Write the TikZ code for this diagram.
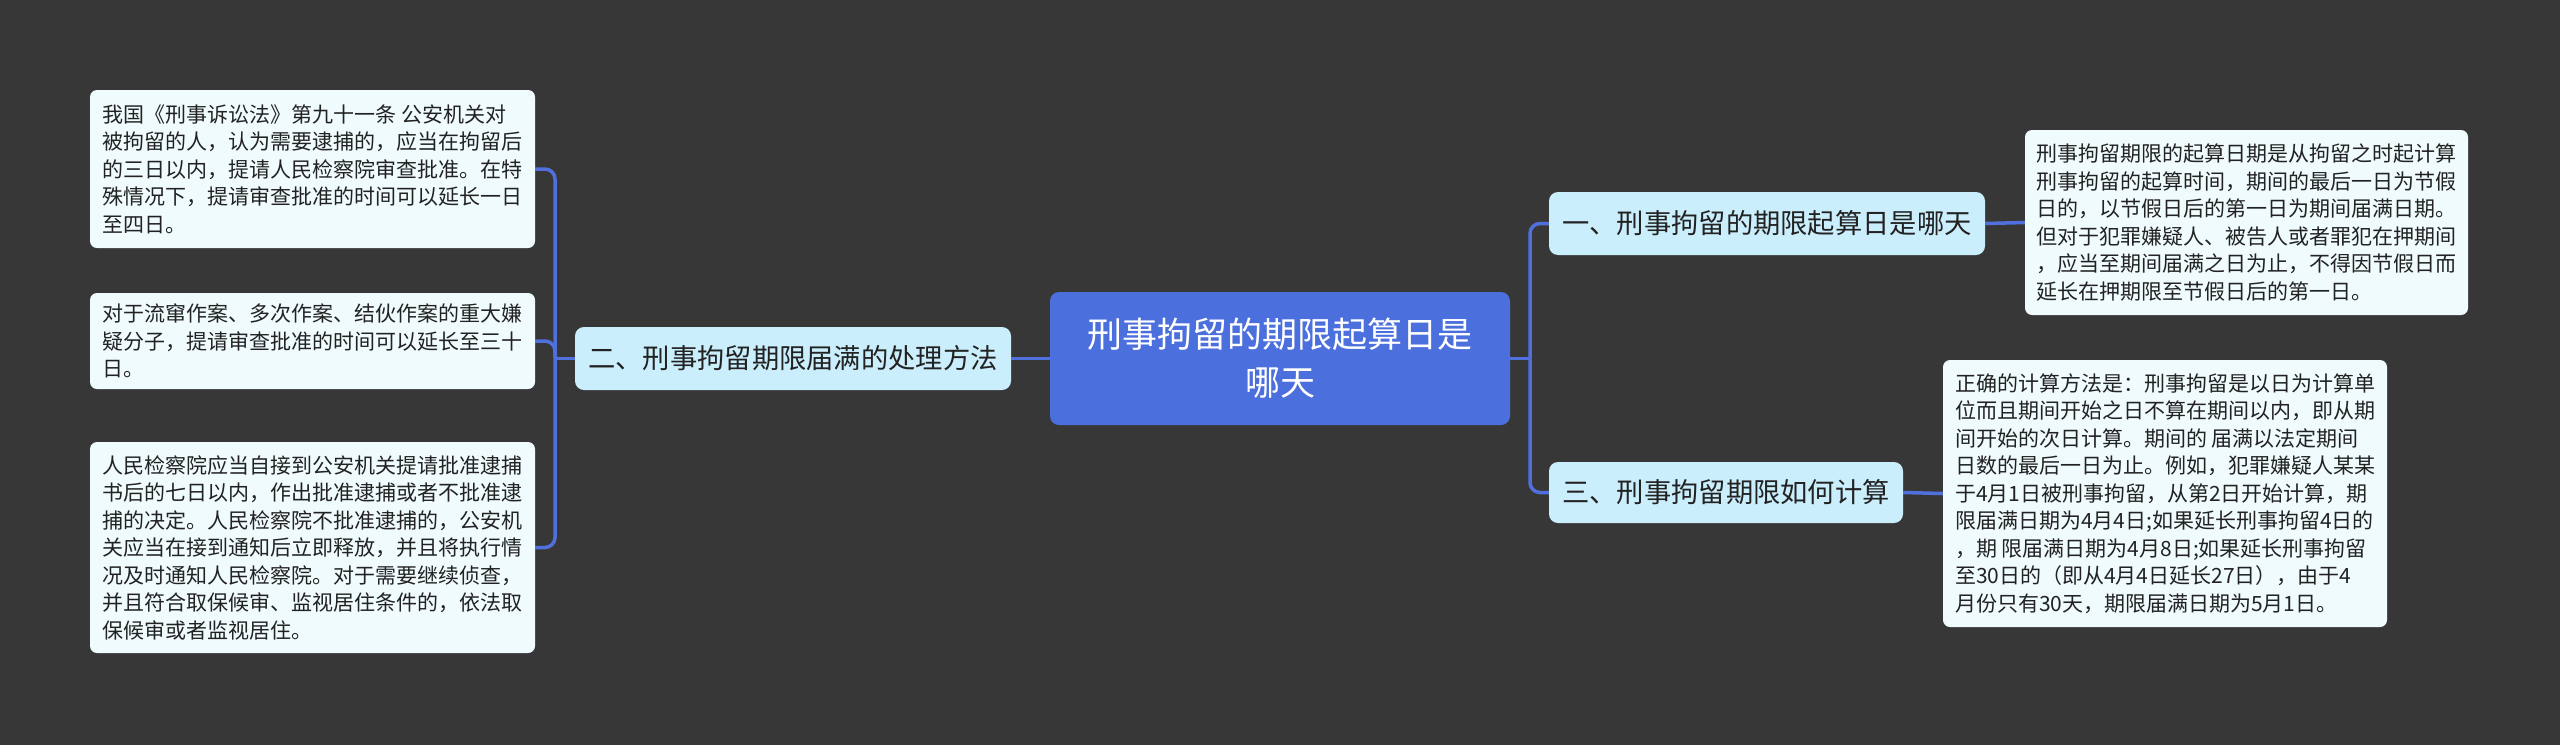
\documentclass[tikz,border=0pt]{standalone}
\usepackage{fontspec}
\setmainfont{Noto Sans CJK SC}
\definecolor{bgdark}{RGB}{56,55,56}
\definecolor{rootblue}{RGB}{76,111,222}
\definecolor{topicblue}{RGB}{203,238,252}
\definecolor{leafblue}{RGB}{240,251,253}
\definecolor{linkblue}{RGB}{80,112,222}
\definecolor{textdark}{RGB}{34,34,34}

\begin{document}
\begin{tikzpicture}[x=1pt,y=-1pt,
    rootbox/.style={fill=rootblue,rounded corners=9pt,text=white,align=center,
      font=\fontsize{35}{48}\selectfont,minimum width=460pt,minimum height=133pt},
    topicbox/.style={fill=topicblue,rounded corners=9pt,text=textdark,
      font=\fontsize{27.3}{32}\selectfont,minimum height=63pt},
    leafbox/.style={fill=leafblue,rounded corners=7pt,text=textdark,align=left,
      font=\fontsize{21}{27.5}\selectfont,minimum width=445pt},
    link/.style={draw=linkblue,line width=3.5pt,rounded corners=10pt}]
    \fill[bgdark] (0,0) rectangle (2560,745);
    \node[rootbox] (root) at (1280,358.5) {刑事拘留的期限起算日是\\哪天};
    \node[topicbox,minimum width=436pt] (lt) at (793,358.5) {二、刑事拘留期限届满的处理方法};
    \node[topicbox,minimum width=436pt] (ra) at (1767,223.5) {一、刑事拘留的期限起算日是哪天};
    \node[topicbox,minimum width=354pt,minimum height=61pt] (rb) at (1726,492.5) {三、刑事拘留期限如何计算};
    \node[leafbox,minimum height=158pt] (la) at (312.5,169) {我国《刑事诉讼法》第九十一条 公安机关对\\
      被拘留的人，认为需要逮捕的，应当在拘留后\\
      的三日以内，提请人民检察院审查批准。在特\\
      殊情况下，提请审查批准的时间可以延长一日\\
      至四日。};
    \node[leafbox,minimum height=96pt] (lb) at (312.5,341) {对于流窜作案、多次作案、结伙作案的重大嫌\\
      疑分子，提请审查批准的时间可以延长至三十\\
      日。};
    \node[leafbox,minimum height=211pt] (lc) at (312.5,547.5) {人民检察院应当自接到公安机关提请批准逮捕\\
      书后的七日以内，作出批准逮捕或者不批准逮\\
      捕的决定。人民检察院不批准逮捕的，公安机\\
      关应当在接到通知后立即释放，并且将执行情\\
      况及时通知人民检察院。对于需要继续侦查，\\
      并且符合取保候审、监视居住条件的，依法取\\
      保候审或者监视居住。};
    \node[leafbox,minimum width=443pt,minimum height=185pt] (rc) at (2246.5,222.5) {刑事拘留期限的起算日期是从拘留之时起计算\\
      刑事拘留的起算时间，期间的最后一日为节假\\
      日的，以节假日后的第一日为期间届满日期。\\
      但对于犯罪嫌疑人、被告人或者罪犯在押期间\\
      ，应当至期间届满之日为止，不得因节假日而\\
      延长在押期限至节假日后的第一日。};
    \node[leafbox,minimum width=444pt,minimum height=267pt] (rd) at (2165,493.5) {正确的计算方法是：刑事拘留是以日为计算单\\
      位而且期间开始之日不算在期间以内，即从期\\
      间开始的次日计算。期间的 届满以法定期间\\
      日数的最后一日为止。例如，犯罪嫌疑人某某\\
      于4月1日被刑事拘留，从第2日开始计算，期\\
      限届满日期为4月4日;如果延长刑事拘留4日的\\
      ，期 限届满日期为4月8日;如果延长刑事拘留\\
      至30日的（即从4月4日延长27日），由于4\\
      月份只有30天，期限届满日期为5月1日。};
    \coordinate (lj) at (555,358.5);
    \coordinate (rj) at (1530,358.5);
    \draw[link] (root.west) -- (lt.east);
    \draw[link] (lt.west) -- (lj);
    \draw[link] (lj) |- (la.east);
    \draw[link] (lj) |- (lb.east);
    \draw[link] (lj) |- (lc.east);
    \draw[link] (root.east) -- (rj);
    \draw[link] (rj) |- (ra.west);
    \draw[link] (rj) |- (rb.west);
    \draw[link] (ra.east) -- (rc.west);
    \draw[link] (rb.east) -- (rd.west);
  \end{tikzpicture}
\end{document}
